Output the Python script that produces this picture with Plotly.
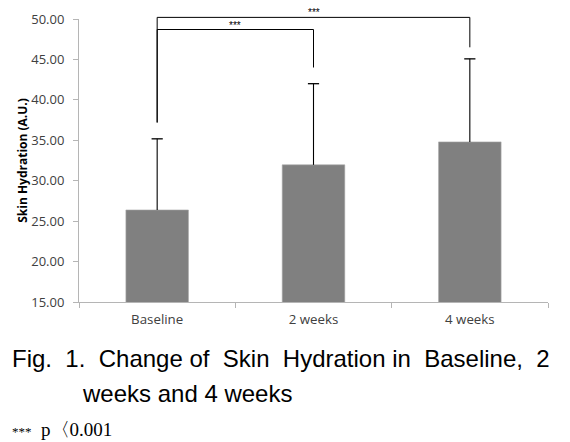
import plotly.graph_objects as go

categories = ["Baseline", "2 weeks", "4 weeks"]
means = [26.38, 31.96, 34.80]
sds = [8.80, 10.04, 10.27]
y_ticks = [15, 20, 25, 30, 35, 40, 45, 50]
# significance brackets: (from index, to index, bracket level, left drop end, right drop end)
brackets = [
    (0, 1, 48.7, 37.2, 44.0),
    (0, 2, 50.2, 37.2, 46.5),
]
sig_label = "***"

Y0, Y1 = 15, 50
OFF = 8  # page body margin of the html page
W, H = 570 - OFF, 442 - OFF
ml, mr, mt, mb = 79 - OFF, 22, 19 - OFF, 140
pw, ph = W - ml - mr, H - mt - mb

fig = go.Figure()
fig.add_trace(go.Bar(
    x=categories, y=means,
    marker=dict(color="#808080", line=dict(color="#a6a6a6", width=0.6)),
    width=0.4, hoverinfo="skip",
))
# error bars (upper only): stem from the bar top, cap at mean+sd
fig.add_trace(go.Scatter(
    x=categories, y=means, mode="markers", marker=dict(size=0.1, color="rgba(0,0,0,0)"),
    error_y=dict(type="data", symmetric=False, array=sds, arrayminus=[0] * len(sds),
                 color="black", thickness=1.1, width=0),
    hoverinfo="skip",
))
fig.add_trace(go.Scatter(
    x=categories, y=[m + s for m, s in zip(means, sds)], mode="markers",
    marker=dict(symbol="line-ew", size=8, line=dict(color="black", width=1.3)),
    hoverinfo="skip",
))


def to_paper(v):
    return (v - Y0) / (Y1 - Y0)


shapes = []
annotations = []
for i0, i1, ylev, yl, yr in brackets:
    line = dict(color="black", width=1)
    shapes.append(dict(type="line", xref="x", yref="paper", x0=i0, x1=i1,
                       y0=to_paper(ylev), y1=to_paper(ylev), line=line))
    shapes.append(dict(type="line", xref="x", yref="paper", x0=i0, x1=i0,
                       y0=to_paper(yl), y1=to_paper(ylev), line=line))
    shapes.append(dict(type="line", xref="x", yref="paper", x0=i1, x1=i1,
                       y0=to_paper(yr), y1=to_paper(ylev), line=line))
    annotations.append(dict(x=(i0 + i1) / 2, y=to_paper(ylev), xref="x", yref="paper",
                            text=sig_label, showarrow=False, yanchor="bottom", yshift=-3,
                            font=dict(size=10, color="black", family="Liberation Sans")))

cap_font = "Liberation Sans, Arial, sans-serif"
nb = "\u00a0"
words = "Fig. 1. Change of Skin Hydration in Baseline, 2".split(" ")
gaps = [" " + nb, " " + nb, " ", " " + nb, " " + nb, " ", " " + nb, " " + nb]
line1 = words[0] + "".join(g + w for g, w in zip(gaps, words[1:]))
# caption positions in page pixels
caption = [
    (10, 358, line1, 24, cap_font),
    (80, 393, "weeks and 4 weeks", 24, cap_font),
    (10, 429, "<span style='font-size:13px'>***</span>" + nb + nb + "p〈0.001", 19,
     "Liberation Serif, serif"),
]
for px, py, txt, sz, fam in caption:
    fx, fy = px - OFF, py - OFF
    annotations.append(dict(
        x=(fx - ml) / pw, y=(H - mb - fy) / ph, xref="paper", yref="paper",
        xanchor="left", yanchor="middle", showarrow=False, text=txt,
        font=dict(size=sz, color="black", family=fam)))

fig.update_layout(
    width=W, height=H,
    margin=dict(l=ml, r=mr, t=mt, b=mb, autoexpand=False),
    plot_bgcolor="white", paper_bgcolor="white",
    showlegend=False,
    shapes=shapes, annotations=annotations,
    font=dict(family="Open Sans, Liberation Sans, sans-serif", color="#404040"),
)
fig.update_xaxes(
    showline=True, linecolor="#b5b5b5", linewidth=1,
    ticks="outside", tickson="boundaries", ticklen=5, tickcolor="#b5b5b5",
    tickfont=dict(size=13.3, color="#404040"), ticklabelstandoff=5,
    showgrid=False, range=[-0.5, 2.5], automargin=False,
)
fig.update_yaxes(
    range=[Y0, Y1], tickvals=y_ticks, tickformat=".2f",
    showline=True, linecolor="#b5b5b5", linewidth=1,
    ticks="outside", ticklen=5, tickcolor="#b5b5b5",
    tickfont=dict(size=13, color="#404040"), ticklabelstandoff=6,
    showgrid=False, zeroline=False, automargin=False,
    title=dict(text="<b>Skin Hydration (A.U.)</b>", font=dict(size=12, color="black"), standoff=0),
)

fig.write_html("out.html")
